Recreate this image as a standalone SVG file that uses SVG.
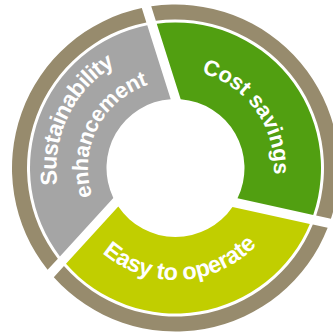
<svg xmlns="http://www.w3.org/2000/svg" width="333" height="334" viewBox="0 0 333 334">
<defs>
<style>
.ring{fill:#978B6D}
.lbl{fill:#FFFFFF;font-family:"Liberation Sans",Arial,sans-serif;font-weight:bold}
</style>
<path id="pCost" d="M 118.30 87.81 A 98.5 98.5 0 0 1 232.70 248.19"/>
<path id="pEasy" d="M 63.63 173.47 A 112 112 0 0 0 287.37 162.53"/>
<path id="pSust" d="M 123.87 275.77 A 119.5 119.5 0 0 1 227.13 60.23"/>
<path id="pEnh" d="M 136.23 246.75 A 88 88 0 0 1 214.77 89.25"/>
</defs>
<rect width="333" height="334" fill="#FFFFFF"/>
<g id="sustainability">
<path class="ring" d="M 57.869 258.637 L 47.613 269.868 A 163.5 163.5 0 0 1 141.796 8.011 L 146.357 22.387 A 148.5 148.5 0 0 0 57.869 258.637 Z"/>
<path fill="#A5A5A5" d="M 113.320 197.910 L 59.923 256.387 A 145.5 145.5 0 0 1 147.269 25.263 L 170.712 99.166 A 69 69 0 0 0 113.320 197.910 Z"/>
<text class="lbl" font-size="23" letter-spacing="-0.7"><textPath href="#pSust" startOffset="50%" text-anchor="middle">Sustainability</textPath></text>
<text class="lbl" font-size="22" letter-spacing="-0.4"><textPath href="#pEnh" startOffset="50%" text-anchor="middle">enhancement</textPath></text>
</g>
<g id="cost-savings">
<path class="ring" d="M 155.823 20.810 L 151.225 6.313 A 163.5 163.5 0 0 1 330.908 218.807 L 316.177 215.568 A 148.5 148.5 0 0 0 155.823 20.810 Z"/>
<path fill="#519F11" d="M 180.689 99.195 L 156.745 23.714 A 145.5 145.5 0 0 1 313.230 214.920 L 237.506 198.271 A 69 69 0 0 0 180.689 99.195 Z"/>
<text class="lbl" font-size="22" letter-spacing="-0.2"><textPath href="#pCost" startOffset="50%" text-anchor="middle">Cost savings</textPath></text>
</g>
<g id="easy-to-operate">
<path class="ring" d="M 312.811 224.556 L 327.666 227.822 A 163.5 163.5 0 0 1 53.798 277.184 L 63.968 266.046 A 148.5 148.5 0 0 0 312.811 224.556 Z"/>
<path fill="#C1CE00" d="M 232.493 206.897 L 309.836 223.901 A 145.5 145.5 0 0 1 66.003 263.817 L 118.282 206.564 A 69 69 0 0 0 232.493 206.897 Z"/>
<text class="lbl" font-size="23.5" letter-spacing="-0.3"><textPath href="#pEasy" startOffset="50%" text-anchor="middle">Easy to operate</textPath></text>
</g>
<g id="connectors"/>
</svg>
